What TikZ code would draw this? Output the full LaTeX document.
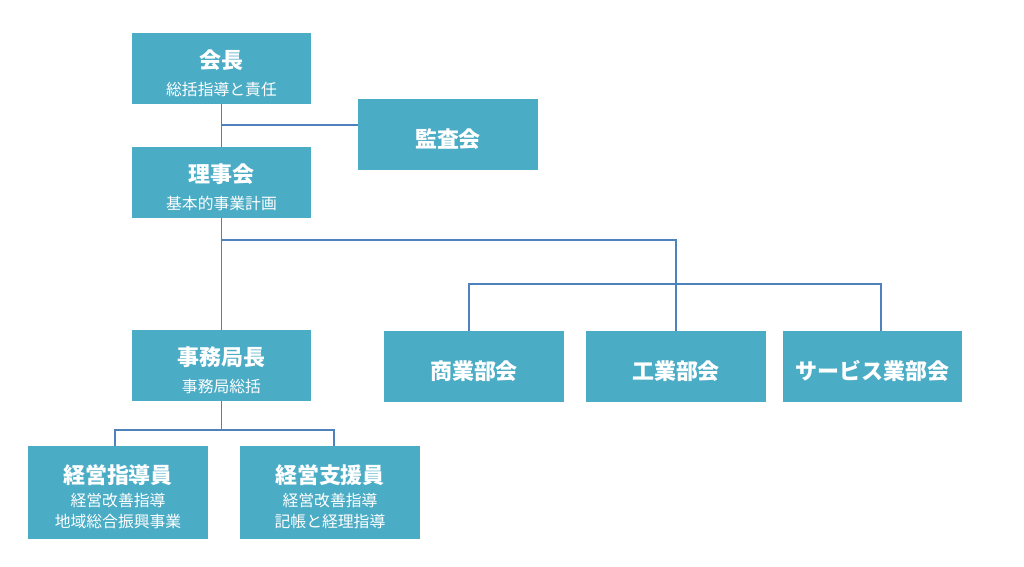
\documentclass[tikz,border=0pt]{standalone}
\usepackage{fontspec}
\setmainfont{Noto Sans CJK JP}
\usepackage{xcolor}
\usetikzlibrary{positioning,calc}
\definecolor{boxteal}{HTML}{4BACC6}
\definecolor{lineblue}{HTML}{4F81BD}
\newcommand{\boxhead}[1]{{\bfseries\fontsize{12.5}{15}\selectfont\rule{0pt}{16pt}#1}}
\newcommand{\boxsub}[1]{{\fontsize{9}{11}\selectfont #1}}

\begin{document}
\begin{tikzpicture}[x=0.02cm,y=-0.02cm,
  orgbox/.style={fill=boxteal,text=white,minimum width=3.6cm,minimum height=1.42cm,align=center,inner sep=0pt},
  tallbox/.style={orgbox,minimum height=1.86cm},
  link/.style={lineblue,line width=0.8pt}]
  \useasboundingbox (0,0) rectangle (1024,566);
  % top
  \node[orgbox] (kaicho) at (221.5,68.5) {\boxhead{会長}\\[3pt]\boxsub{総括指導と責任}};
  \node[orgbox] (kansa) at (448,134.5) {\boxhead{監査会}};
  \node[orgbox] (riji) at (221.5,182.5) {\boxhead{理事会}\\[3pt]\boxsub{基本的事業計画}};
  \node[orgbox] (jimu) at (221.5,365.5) {\boxhead{事務局長}\\[3pt]\boxsub{事務局総括}};
  % bukai
  \node[orgbox] (shogyo) at (474,366.5) {\boxhead{商業部会}};
  \node[orgbox] (kogyo) at (676,366.5) {\boxhead{工業部会}};
  \node[orgbox] (service) at (872.5,366.5) {\boxhead{サービス業部会}};
  % staff
  \node[tallbox] (shido) at (118,492.5) {\boxhead{経営指導員}\\[1pt]\boxsub{経営改善指導}\\[0pt]\boxsub{地域総合振興事業}};
  \node[tallbox] (shien) at (330,492.5) {\boxhead{経営支援員}\\[1pt]\boxsub{経営改善指導}\\[0pt]\boxsub{記帳と経理指導}};
  % links
  \coordinate (kansajoint) at (221.5,125);
  \coordinate (bukaijoint) at (221.5,240);
  \coordinate (bukairow) at (676,284);
  \coordinate (staffjoint) at (221.5,430);
  \draw[link] (kaicho) -- (riji);
  \draw[link] (kansajoint) -- (kansajoint -| kansa.west);
  \draw[link] (riji) -- (jimu);
  \draw[link] (bukaijoint) -| (kogyo.north);
  \draw[link] ([xshift=-0.1cm]shogyo.north) |- (bukairow) -| ([xshift=0.17cm]service.north);
  \draw[link] (jimu) -- (staffjoint);
  \draw[link] ([xshift=-0.06cm]shido.north) |- (staffjoint) -| ([xshift=0.08cm]shien.north);
\end{tikzpicture}
\end{document}
